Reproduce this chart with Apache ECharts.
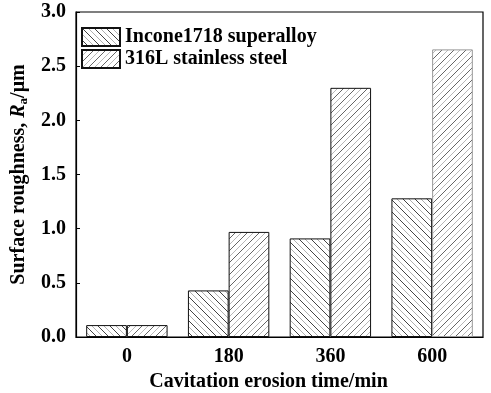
<!DOCTYPE html>
<html><head><meta charset="utf-8">
<script src="https://cdn.jsdelivr.net/npm/echarts@6/dist/echarts.min.js"></script>
<style>html,body{margin:0;padding:0;background:#fff}#c{width:491px;height:393px}</style>
</head><body><div id="c"></div>
<script>
const categories = ['0', '180', '360', '600'];
const seriesNames = ['Incone1718 superalloy', '316L stainless steel'];
const inconelValues = [0.11, 0.43, 0.91, 1.28];
const steelValues = [0.11, 0.97, 2.30, 2.655];

function hatch(dir, c1, c2) {
  const s = 12;
  const cv = document.createElement('canvas');
  cv.width = s; cv.height = s;
  const ctx = cv.getContext('2d');
  ctx.fillStyle = '#fff'; ctx.fillRect(0, 0, s, s);
  ctx.lineWidth = 1;
  const offs = [[0, c1], [6, c2]];
  offs.forEach(([o, col]) => {
    ctx.strokeStyle = col;
    for (let k = -1; k <= 1; k++) {
      ctx.beginPath();
      const sh = o + k * s;
      if (dir === 'back') { ctx.moveTo(sh - 1, -1); ctx.lineTo(sh + s + 1, s + 1); }
      else { ctx.moveTo(sh - 1, s + 1); ctx.lineTo(sh + s + 1, -1); }
      ctx.stroke();
    }
  });
  return { image: cv, repeat: 'repeat' };
}

const patA = hatch('back', '#444', '#b0b0b0');
const patB = hatch('fwd', '#666', '#b8b8b8');

const chart = echarts.init(document.getElementById('c'));
const font = '"Liberation Serif", "Times New Roman", serif';
chart.setOption({
  animation: false,
  textStyle: { fontFamily: font },
  grid: { left: 76, right: 8, top: 12, bottom: 56, show: true, borderColor: '#000', borderWidth: 1.2, outerBoundsMode: 'none', containLabel: false },
  legend: {
    orient: 'vertical', left: 76, top: 22, itemWidth: 38, itemHeight: 18, itemGap: 2, icon: 'rect',
    textStyle: { fontFamily: font, fontWeight: 'bold', fontSize: 20, color: '#000' },
    data: seriesNames
  },
  xAxis: {
    type: 'category', data: categories,
    axisLine: { lineStyle: { color: '#000', width: 1.2 } },
    axisTick: { show: false },
    axisLabel: { fontFamily: font, fontWeight: 'bold', fontSize: 20, color: '#000', margin: 10 },
    name: 'Cavitation erosion time/min', nameLocation: 'middle', nameGap: 32,
    nameTextStyle: { fontFamily: font, fontWeight: 'bold', fontSize: 20, color: '#000', padding: [0, 22, 0, 0] }
  },
  yAxis: {
    type: 'value', min: 0, max: 3, interval: 0.5,
    axisLine: { show: true, lineStyle: { color: '#000', width: 1.2 } },
    axisTick: { show: true, inside: true, length: 4, lineStyle: { color: '#000' } },
    splitLine: { show: false },
    axisLabel: { fontFamily: font, fontWeight: 'bold', fontSize: 20, color: '#000', margin: 10, formatter: v => v.toFixed(1) },
    name: '{n|Surface roughness, }{i|R}{s|a}{n|/μm}', nameLocation: 'middle', nameGap: 45,
    nameTextStyle: {
      rich: {
        n: { fontFamily: font, fontWeight: 'bold', fontSize: 20, color: '#000' },
        i: { fontFamily: font, fontWeight: 'bold', fontStyle: 'italic', fontSize: 20, color: '#000' },
        s: { fontFamily: font, fontWeight: 'bold', fontSize: 13, color: '#000', verticalAlign: 'bottom', padding: [10, 0, 0, 0] }
      }
    }
  },
  series: [
    {
      name: seriesNames[0], type: 'bar', barGap: '0%', barCategoryGap: '20%',
      itemStyle: { color: patA, borderColor: '#111', borderWidth: 1 },
      data: inconelValues
    },
    {
      name: seriesNames[1], type: 'bar', barGap: '0%', barCategoryGap: '20%',
      itemStyle: { color: patB, borderColor: '#111', borderWidth: 1 },
      data: steelValues.map((v, i) => i === 3 ? { value: v, itemStyle: { borderColor: '#999' } } : v)
    }
  ]
});
</script></body></html>
